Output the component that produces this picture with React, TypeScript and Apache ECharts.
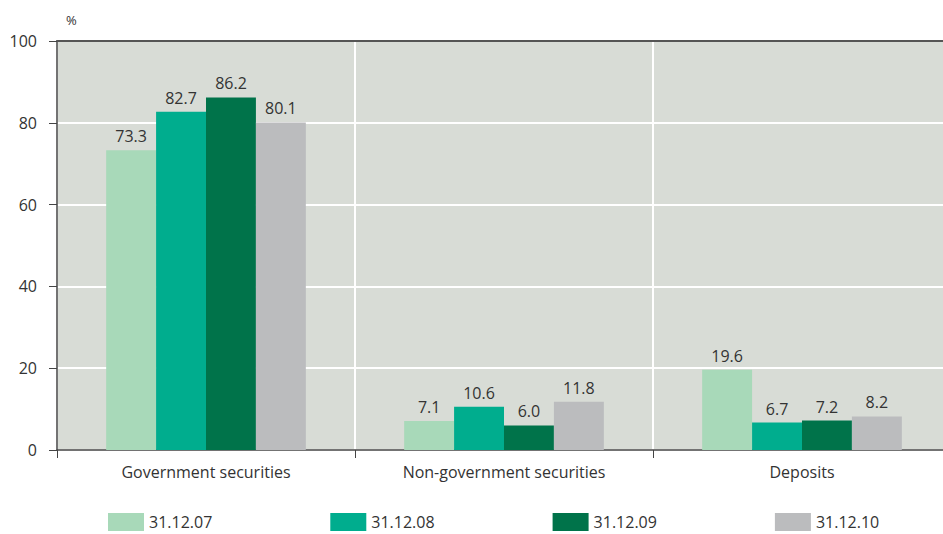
import React, { useEffect, useRef } from "react";
import * as echarts from "echarts";

const categories = ["Government securities", "Non-government securities", "Deposits"];
const seriesNames = ["31.12.07", "31.12.08", "31.12.09", "31.12.10"];
const values07 = [73.3, 7.1, 19.6];
const values08 = [82.7, 10.6, 6.7];
const values09 = [86.2, 6.0, 7.2];
const values10 = [80.1, 11.8, 8.2];
const colors = ["#a8d9b9", "#00ad8e", "#00734a", "#bbbcbe"];
const yTicks = [0, 20, 40, 60, 80, 100];

const FONT = "'Open Sans', 'Noto Sans', sans-serif";

export default function App() {
  const ref = useRef<HTMLDivElement>(null);

  useEffect(() => {
    if (!ref.current) return;
    const chart = echarts.init(ref.current, undefined, { renderer: "svg" });
    const data = [values07, values08, values09, values10];

    chart.setOption({
      animation: false,
      textStyle: { fontFamily: FONT },
      grid: {
        left: 57,
        right: 0,
        top: 41,
        bottom: 84,
        show: true,
        backgroundColor: "#d8dcd6",
        borderWidth: 0,
      },
      legend: {
        top: 513,
        left: 108,
        itemWidth: 36,
        itemHeight: 18,
        itemGap: 118,
        icon: "rect",
        padding: 0,
        textStyle: { fontSize: 16, lineHeight: 18, color: "#333", fontFamily: FONT },
        data: seriesNames,
      },
      graphic: [
        {
          type: "text",
          left: 66,
          top: 13,
          style: { text: "%", fontSize: 13, fill: "#333", fontFamily: FONT },
        },
      ],
      xAxis: [
        {
          type: "category",
          data: categories,
          axisLine: { lineStyle: { color: "#444", width: 1.5 } },
          axisTick: { show: true, length: 8, lineStyle: { color: "#444" } },
          axisLabel: { fontSize: 16, color: "#333", margin: 14, fontFamily: FONT },
          splitLine: { show: true, lineStyle: { color: "#ffffff", width: 2 } },
        },
        {
          type: "category",
          position: "top",
          data: categories,
          axisLine: { show: true, lineStyle: { color: "#555", width: 2 } },
          axisTick: { show: false },
          axisLabel: { show: false },
          splitLine: { show: false },
        },
      ],
      yAxis: {
        type: "value",
        min: yTicks[0],
        max: yTicks[yTicks.length - 1],
        interval: 20,
        axisLine: { show: true, lineStyle: { color: "#444", width: 1.5 } },
        axisTick: { show: true, length: 8, lineStyle: { color: "#444" } },
        axisLabel: { fontSize: 16, color: "#333", margin: 20, fontFamily: FONT },
        splitLine: { show: true, lineStyle: { color: "#ffffff", width: 2 } },
      },
      series: seriesNames.map((name, i) => ({
        name,
        type: "bar",
        data: data[i],
        barGap: "0%",
        barCategoryGap: "33%",
        itemStyle: { color: colors[i] },
        label: {
          show: true,
          position: "top",
          distance: 6,
          fontSize: 16,
          color: "#333",
          fontFamily: FONT,
          formatter: (p: any) => Number(p.value).toFixed(1),
        },
      })),
    });

    return () => chart.dispose();
  }, []);

  // The canvas runs a few pixels past the visible right edge, so the last
  // category is clipped the same way as the printed figure.
  return (
    <div style={{ width: 943, height: 534, overflow: "hidden", position: "absolute", left: 0, top: 0 }}>
      <div ref={ref} style={{ width: 951, height: 534 }} />
    </div>
  );
}
